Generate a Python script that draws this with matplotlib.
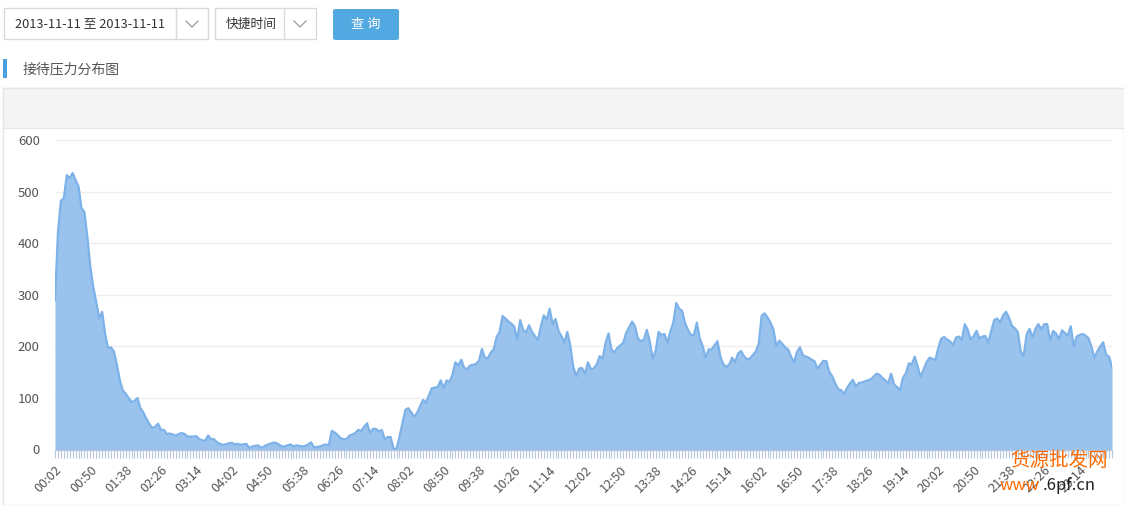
import numpy as np
import matplotlib.pyplot as plt
from matplotlib.patches import Rectangle, FancyBboxPatch

plt.rcParams['font.family'] = ['Noto Sans CJK SC', 'DejaVu Sans']

# --- data: one sample every 4 minutes, 00:02 .. 23:58 ---
START_MIN = 2
STEP_MIN = 4
LABEL_EVERY = 12

DATE_RANGE = '2013-11-11 至 2013-11-11'
QUICK_TIME = '快捷时间'
BUTTON_TEXT = '查 询'
TITLE = '接待压力分布图'
Y_TICKS = [0, 100, 200, 300, 400, 500, 600]

# 00:02 - 03:26
pressure_night = [
    289, 420, 482, 487, 532, 526, 536, 522, 510, 468, 460, 412,
    354, 315, 286, 254, 267, 225, 197, 198, 190, 165, 135, 115,
    108, 100, 92, 94, 100, 80, 72, 60, 50, 42, 44, 50,
    38, 38, 30, 31, 29, 27, 30, 32, 30, 25, 25, 25,
    26, 20, 18, 17,
]
# 03:30 - 07:46
pressure_early = [
    27, 20, 20, 14, 11, 9, 10, 12, 13, 10, 11, 9,
    10, 11, 3, 6, 7, 8, 3, 6, 9, 11, 13, 13,
    10, 6, 6, 8, 10, 6, 8, 7, 6, 7, 10, 14,
    4, 5, 6, 8, 10, 8, 36, 33, 28, 22, 20, 20,
    27, 29, 32, 38, 36, 44, 51, 32, 40, 40, 35, 38,
    20, 24, 24, 2, 1,
]
# 07:50 - 11:26
pressure_morning = [
    25, 51, 77, 80, 72, 63, 71, 84, 96, 91, 105, 119,
    120, 121, 134, 119, 134, 131, 145, 169, 163, 174, 158, 156,
    163, 164, 166, 172, 195, 178, 177, 188, 194, 218, 228, 259,
    254, 248, 244, 238, 213, 251, 232, 227, 241, 228, 220, 212,
    238, 260, 252, 273, 243, 253, 230,
]
# 11:30 - 14:34
pressure_noon = [
    220, 207, 228, 202, 161, 142, 157, 158, 147, 169, 156, 157,
    165, 181, 176, 207, 225, 194, 188, 197, 202, 207, 226, 237,
    248, 239, 215, 210, 213, 232, 210, 176, 191, 228, 222, 224,
    207, 229, 246, 284, 273, 269, 245, 232, 222, 222, 246,
]
# 14:38 - 18:14
pressure_afternoon = [
    215, 200, 178, 194, 194, 202, 210, 180, 165, 160, 165, 178,
    169, 186, 191, 181, 175, 176, 183, 190, 205, 259, 264, 256,
    246, 233, 200, 211, 205, 198, 194, 180, 169, 189, 198, 183,
    180, 178, 174, 171, 156, 165, 172, 171, 150, 142, 128, 117,
    115, 108, 119, 128, 135, 122, 129,
]
# 18:18 - 21:10
pressure_evening = [
    130, 132, 134, 136, 141, 147, 145, 139, 134, 129, 147, 126,
    121, 115, 139, 148, 167, 165, 180, 161, 140, 155, 169, 178,
    176, 173, 197, 215, 218, 213, 210, 202, 217, 219, 213, 243,
    232, 213, 220, 230, 215, 219, 220, 207,
]
# 21:14 - 23:58
pressure_late = [
    230, 251, 254, 246, 260, 267, 256, 240, 235, 228, 190, 181,
    223, 234, 217, 234, 243, 233, 243, 243, 211, 230, 225, 214,
    231, 226, 221, 239, 200, 219, 222, 224, 221, 216, 200, 178,
    190, 200, 208, 184, 180, 160,
]

pressure = (pressure_night + pressure_early + pressure_morning + pressure_noon
            + pressure_afternoon + pressure_evening + pressure_late)
minutes = [START_MIN + STEP_MIN * i for i in range(len(pressure))]
time_labels = ['%02d:%02d' % (m // 60, m % 60) for m in minutes]

# --- figure ---
W, H = 1124, 505
fig = plt.figure(figsize=(W / 100, H / 100), dpi=100)
fig.patch.set_facecolor('white')


def px(x, y):
    return x / W, 1 - y / H


def box(x0, y0, x1, y1, **kw):
    kw.setdefault('zorder', -5)
    fig.patches.append(Rectangle(px(x0, y1), (x1 - x0) / W, (y1 - y0) / H,
                                 transform=fig.transFigure, **kw))


def chevron(cx, cy):
    xs = [cx - 6, cx, cx + 6]
    ys = [cy - 3, cy + 3, cy - 3]
    fig.lines.append(plt.Line2D([x / W for x in xs], [1 - y / H for y in ys],
                                transform=fig.transFigure, color='#999999', lw=0.9))


# date range selector
box(4, 8, 208, 39, facecolor='white', edgecolor='#d9d9d9', lw=1)
box(176, 8, 176, 39, edgecolor='#d9d9d9', lw=1)
fig.text(*px(15, 24), DATE_RANGE, fontsize=9.2, color='#333333', va='center')
chevron(192, 24)

# quick time selector
box(215, 8, 316, 39, facecolor='white', edgecolor='#d9d9d9', lw=1)
box(284, 8, 284, 39, edgecolor='#d9d9d9', lw=1)
fig.text(*px(226, 24), QUICK_TIME, fontsize=9.2, color='#333333', va='center')
chevron(300, 24)

# query button
fig.patches.append(FancyBboxPatch(px(333, 40), 66 / W, 31 / H,
                                  boxstyle='round,pad=0,rounding_size=0.003',
                                  transform=fig.transFigure, zorder=-5,
                                  facecolor='#52a8e1', edgecolor='none'))
fig.text(*px(366, 24), BUTTON_TEXT, fontsize=9.5, color='white', ha='center', va='center')

# section title
box(3, 59, 7, 78, facecolor='#4a9fe0', edgecolor='none')
fig.text(*px(23, 69), TITLE, fontsize=10, color='#555555', va='center')

# chart panel
box(3, 88, 1124, 505, facecolor='white', edgecolor='#e6e6e6', lw=1, zorder=-6)
box(3, 88, 1124, 128, facecolor='#f4f4f4', edgecolor='#e6e6e6', lw=1)

# --- plot ---
ax = fig.add_axes([55 / W, 1 - 449.5 / H, (1112 - 55) / W, (449.5 - 140) / H])
ax.set_facecolor('none')
x = np.arange(len(pressure))
ax.fill_between(x, pressure, 0, color='#99c3ed', lw=0)
ax.plot(x, pressure, color='#7db2e9', lw=1.6)

ax.set_xlim(0, len(pressure) - 1)
ax.set_ylim(0, 600)
ax.set_yticks(Y_TICKS)
ax.set_yticklabels([str(v) for v in Y_TICKS])
ax.yaxis.grid(True, color='#eeeeee', lw=1)
ax.set_axisbelow(True)
ax.tick_params(axis='y', length=0, pad=11, labelsize=9.5, labelcolor='#555555')

ax.set_xticks(x, minor=True)
ax.set_xticks(x[::LABEL_EVERY])
ax.set_xticklabels(time_labels[::LABEL_EVERY], rotation=45, ha='right',
                   rotation_mode='anchor')
ax.tick_params(axis='x', which='both', length=6, width=0.8, color='#b7c7dc',
               labelsize=9.2, labelcolor='#555555', pad=4)

for s in ['top', 'right', 'left']:
    ax.spines[s].set_visible(False)
ax.spines['bottom'].set_color('#b7c7dc')
ax.spines['bottom'].set_linewidth(1)

# watermark
fig.text(*px(1010, 460), '货源批发网', fontsize=14, color='#ff6a00', va='center',
         fontweight='light', zorder=10)
fig.text(*px(1040, 486), 'www', fontsize=12, color='#ff6a00', va='center', ha='right',
         zorder=10)
fig.text(*px(1043, 486), '.6pf.cn', fontsize=12, color='#222222', va='center', ha='left',
         zorder=10)

fig.savefig('out.png', dpi=100)
